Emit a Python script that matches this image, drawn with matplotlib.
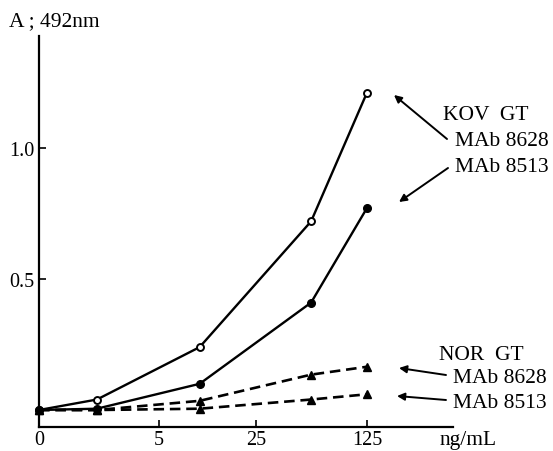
import matplotlib
matplotlib.use("Agg")
from matplotlib import pyplot as plt

plt.rcParams['font.family'] = ['Liberation Serif', 'DejaVu Serif']

# x positions on the (non-linear) concentration axis, in tick units
tick_pos = [0.0, 1.1, 1.99, 3.0]
tick_labels = ['0', '5', '25', '125']
x_pos = [0.0, 0.53, 1.47, 2.49, 3.0]

kov_8628 = [0.0, 0.04, 0.24, 0.72, 1.21]
kov_8513 = [0.0, 0.005, 0.10, 0.41, 0.77]
nor_8628 = [0.0, 0.0, 0.035, 0.135, 0.165]
nor_8513 = [0.0, 0.0, 0.005, 0.04, 0.06]

fig = plt.figure(figsize=(5.53, 4.52), dpi=100)
ax = fig.add_axes([0.0705, 0.053, 0.749, 0.865])

ax.plot(x_pos, kov_8628, '-', color='black', lw=1.7, marker='o', ms=5,
        mfc='white', mec='black', mew=1.4, clip_on=False)
ax.plot(x_pos, kov_8513, '-', color='black', lw=1.7, marker='o', ms=5.5,
        mfc='black', clip_on=False)
ax.plot(x_pos, nor_8628, '--', color='black', lw=1.9, marker='^', ms=5.5,
        dashes=(4, 2.2), clip_on=False)
ax.plot(x_pos, nor_8513, '--', color='black', lw=1.9, marker='^', ms=5.5,
        dashes=(4, 2.2), clip_on=False)

ax.set_xlim(0.03, 3.79)
ax.set_ylim(-0.065, 1.427)
ax.set_xticks(tick_pos)
ax.set_xticklabels(tick_labels)
ax.set_yticks([0.5, 1.0])
ax.set_yticklabels(['0.5', '1.0'])
ax.tick_params(direction='in', length=5, width=1.2, labelsize=14.5, pad=2)
ax.tick_params(axis='y', pad=3)
for s in ['top', 'right']:
    ax.spines[s].set_visible(False)
for s in ['left', 'bottom']:
    ax.spines[s].set_linewidth(1.6)

fs = 15.5

fig.text(9 / 553, 1 - 22 / 452, 'A ; 492nm', fontsize=fs, va='center', ha='left')
fig.text(440 / 553, 1 - 441 / 452, 'ng/mL', fontsize=fs, va='center', ha='left')

def label(text, px, py):
    fig.text(px / 553, 1 - py / 452, text, fontsize=fs, va='center', ha='left')

def arrow(x0, y0, x1, y1):
    ax.annotate('', xy=(x1, y1), xycoords='figure pixels',
                xytext=(x0, y0), textcoords='figure pixels',
                arrowprops=dict(arrowstyle='-|>', color='black', lw=1.4,
                                mutation_scale=11, shrinkA=0, shrinkB=0))

label('KOV  GT', 443, 115)
label('MAb 8628', 455, 142)
label('MAb 8513', 455, 167)
label('NOR  GT', 439, 355)
label('MAb 8628', 453, 379)
label('MAb 8513', 453, 404)

arrow(447, 452 - 140, 394, 452 - 96)
arrow(448, 452 - 169, 399, 452 - 203)
arrow(446, 452 - 376, 399, 452 - 369)
arrow(446, 452 - 401, 397, 452 - 397)

fig.savefig('out.png', dpi=100)
